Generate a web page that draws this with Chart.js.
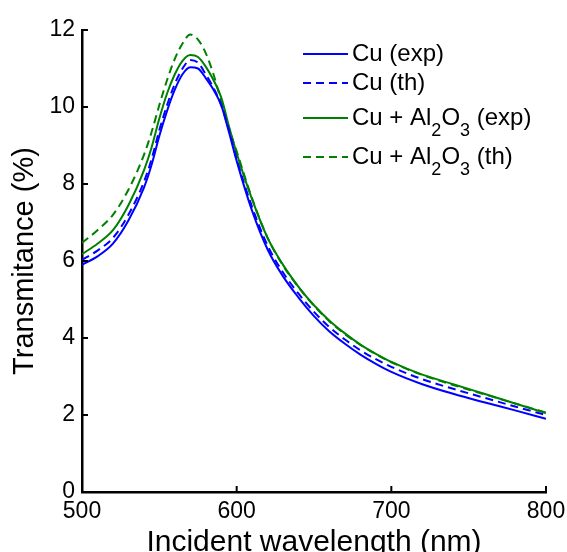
<!DOCTYPE html>
<html>
<head>
<meta charset="utf-8">
<script src="https://cdn.jsdelivr.net/npm/chart.js@4/dist/chart.umd.min.js"></script>
<style>
  html, body { margin: 0; padding: 0; background: #fff; }
</style>
</head>
<body>
<canvas id="c" width="567" height="552"></canvas>
<script>
// wavelengths (nm) and transmittance (%)
var wavelength = [500,510,520,530,540,545,550,555,560,565,570,575,580,585,590,595,600,610,620,630,640,650,660,670,680,690,700,720,740,760,780,800];
var cuExp  = [5.9,6.12,6.45,7.05,7.9,8.5,9.25,9.9,10.45,10.85,11.03,11.0,10.75,10.45,10.05,9.35,8.6,7.3,6.3,5.6,5.05,4.57,4.17,3.85,3.57,3.33,3.12,2.8,2.55,2.33,2.12,1.9];
var cuTh   = [6.03,6.27,6.6,7.2,8.05,8.65,9.4,10.05,10.6,11.0,11.22,11.15,10.85,10.5,10.05,9.4,8.65,7.4,6.4,5.7,5.15,4.68,4.28,3.96,3.68,3.45,3.25,2.93,2.68,2.45,2.22,2.0];
var alExp  = [6.18,6.45,6.8,7.45,8.35,8.95,9.7,10.35,10.85,11.2,11.35,11.3,11.05,10.7,10.25,9.5,8.8,7.6,6.6,5.9,5.33,4.85,4.45,4.12,3.83,3.59,3.38,3.05,2.8,2.55,2.3,2.05];
var alTh   = [6.47,6.8,7.2,7.85,8.75,9.35,10.05,10.7,11.25,11.65,11.88,11.75,11.4,10.85,10.15,9.45,8.85,7.62,6.6,5.88,5.32,4.84,4.43,4.1,3.82,3.58,3.37,3.04,2.78,2.54,2.3,2.06];
var xTicks = [500, 600, 700, 800];
var yTicks = [0, 2, 4, 6, 8, 10, 12];

var BLUE = '#0000ff', GREEN = '#008000';
var font = 'Liberation Sans, Arial, sans-serif';

function pts(ys) {
  return wavelength.map(function(x, i) { return {x: x, y: ys[i]}; });
}

function series(label, ys, color, dashed) {
  return {
    label: label,
    data: pts(ys),
    borderColor: color,
    borderWidth: 2,
    borderDash: dashed ? [8, 5] : [],
    pointRadius: 0,
    fill: false,
    cubicInterpolationMode: 'monotone'
  };
}

// legend entries; sub parts drawn as subscripts
var legendItems = [
  {color: BLUE,  dash: false, parts: [['Cu (exp)', 0]]},
  {color: BLUE,  dash: true,  parts: [['Cu (th)', 0]]},
  {color: GREEN, dash: false, parts: [['Cu + Al', 0], ['2', 1], ['O', 0], ['3', 1], [' (exp)', 0]]},
  {color: GREEN, dash: true,  parts: [['Cu + Al', 0], ['2', 1], ['O', 0], ['3', 1], [' (th)', 0]]}
];
var legendRows = [54, 83, 118, 157];

var decor = {
  id: 'decor',
  afterDraw: function(chart) {
    var ctx = chart.ctx, a = chart.chartArea;
    var xs = chart.scales.x, ys = chart.scales.y;
    ctx.save();
    // inward ticks
    ctx.strokeStyle = '#000';
    ctx.lineWidth = 2;
    xTicks.forEach(function(v) {
      var px = xs.getPixelForValue(v);
      ctx.beginPath(); ctx.moveTo(px, a.bottom); ctx.lineTo(px, a.bottom - 6); ctx.stroke();
    });
    yTicks.forEach(function(v) {
      var py = ys.getPixelForValue(v);
      ctx.beginPath(); ctx.moveTo(a.left, py); ctx.lineTo(a.left + 6, py); ctx.stroke();
    });
    // legend
    legendItems.forEach(function(it, i) {
      var y = legendRows[i];
      ctx.strokeStyle = it.color;
      ctx.lineWidth = 2;
      ctx.setLineDash(it.dash ? [8, 5] : []);
      ctx.beginPath(); ctx.moveTo(303, y); ctx.lineTo(348, y); ctx.stroke();
      ctx.setLineDash([]);
      var x = 352;
      ctx.fillStyle = '#000';
      ctx.textBaseline = 'middle';
      it.parts.forEach(function(p) {
        ctx.font = (p[1] ? '18px ' : '24px ') + font;
        ctx.fillText(p[0], x, p[1] ? y + 13 : y);
        x += ctx.measureText(p[0]).width;
      });
    });
    ctx.restore();
  }
};

new Chart(document.getElementById('c'), {
  type: 'line',
  data: {
    datasets: [
      series('Cu (exp)', cuExp, BLUE, false),
      series('Cu (th)', cuTh, BLUE, true),
      series('Cu + Al2O3 (exp)', alExp, GREEN, false),
      series('Cu + Al2O3 (th)', alTh, GREEN, true)
    ]
  },
  options: {
    responsive: false,
    animation: false,
    layout: { padding: { top: 30, right: 21, left: 0, bottom: 0 } },
    plugins: { legend: { display: false }, tooltip: { enabled: false } },
    scales: {
      x: {
        type: 'linear', min: 500, max: 800,
        afterBuildTicks: function(s) { s.ticks = xTicks.map(function(v) { return {value: v}; }); },
        afterFit: function(s) { s.height = 60; s.paddingRight = 0; s.paddingLeft = 0; },
        grid: { display: true, drawOnChartArea: false, drawTicks: false },
        border: { display: true, color: '#000', width: 2.5 },
        ticks: { color: '#000', padding: 6, maxRotation: 0, font: { family: font, size: 23 } },
        title: { display: true, text: 'Incident wavelength (nm)', color: '#000', padding: { top: 0, bottom: -9 }, font: { family: font, size: 30 } }
      },
      y: {
        min: 0, max: 12,
        afterBuildTicks: function(s) { s.ticks = yTicks.map(function(v) { return {value: v}; }); },
        afterFit: function(s) { s.width = 82; s.paddingTop = 0; s.paddingBottom = 0; },
        grid: { display: true, drawOnChartArea: false, drawTicks: false },
        border: { display: true, color: '#000', width: 2.5 },
        ticks: { color: '#000', padding: 7, font: { family: font, size: 23 } },
        title: { display: true, text: 'Transmitance (%)', color: '#000', padding: { top: 8, bottom: 0 }, font: { family: font, size: 29 } }
      }
    }
  },
  plugins: [decor]
});
</script>
</body>
</html>
